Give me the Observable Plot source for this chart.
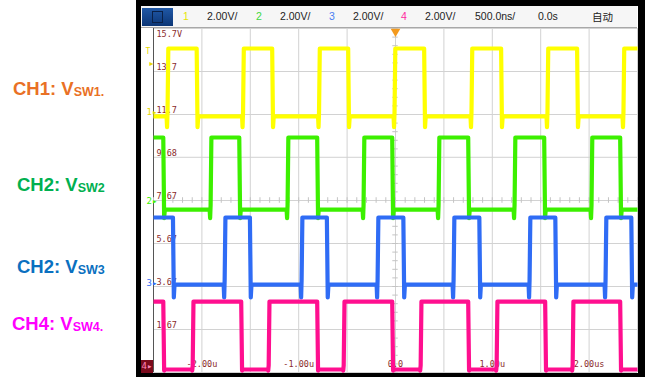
<!DOCTYPE html>
<html><head><meta charset="utf-8">
<script src="https://cdn.jsdelivr.net/npm/d3@7"></script>
<script src="https://cdn.jsdelivr.net/npm/@observablehq/plot@0.6"></script>
<style>
html,body{margin:0;padding:0;background:#fff}
#page{position:relative;width:645px;height:377px;overflow:hidden;font-family:"Liberation Sans",Arial,sans-serif}
#bezel{position:absolute;left:136px;top:0;width:509px;height:377px;background:#000}
#screen{position:absolute;left:141px;top:6px;width:497px;height:367px;background:#fff}
#header{position:absolute;left:141px;top:6px;width:496px;height:21px;background:#f6f6f6;border-bottom:1px solid #a8a8a8}
#header span{position:absolute;top:0;line-height:21px;font-size:10.5px;color:#222;white-space:nowrap}
#menu{position:absolute;left:1px;top:2px;width:31px;height:18px;background:linear-gradient(#2058a6,#0c3676)}
#menu div{position:absolute;left:10px;top:3px;width:9px;height:10px;border:1px solid #0a2148}
#chart{position:absolute;left:0;top:0}
.lab{position:absolute;white-space:nowrap;font-weight:bold;font-size:18.5px;line-height:20px}
.lab span{font-size:12.5px;position:relative;top:1px}
#ch4box{position:absolute;left:141px;top:360px;width:12px;height:13px;background:#7a0a1c;color:#ff86b8;font-size:9px;line-height:13px;font-family:"DejaVu Sans Mono",monospace;text-align:center}
</style></head>
<body><div id="page">
<div id="bezel"></div><div id="screen"></div>
<div id="header"><div id="menu"><div></div></div></div>
<div id="ch4box">4▸</div>
</div>
<script>
// ---- scope settings / labels ----
const headerChannels = ["1", "2", "3", "4"];
const headerChannelColors = ["#e6e600", "#3fd83f", "#4a7ff2", "#ff2aa0"];
const headerScales = ["2.00V/", "2.00V/", "2.00V/", "2.00V/"];
const headerTimebase = "500.0ns/";
const headerDelay = "0.0s";
const headerMode = "自动";

const voltTicks = [15.67, 13.67, 11.67, 9.68, 7.67, 5.67, 3.67, 1.67, -0.33];
const voltTickLabels = ["15.7V", "13.7", "11.7", "9.68", "7.67", "5.67", "3.67", "1.67", ""];
const timeTicks = [-2500, -2000, -1500, -1000, -500, 0, 500, 1000, 1500, 2000, 2500];
const timeLabelValues = [-2000, -1000, 0, 1000, 2000];
const timeLabels = ["-2.00u", "-1.00u", "0.0", "1.00u", "2.00us"];

const sideNames = ["CH1: V", "CH2: V", "CH2: V", "CH4: V"];
const sideSubs = ["SW1.", "SW2", "SW3", "SW4."];
const sideColors = ["#e97125", "#00b050", "#0a70c0", "#ff00ff"];

// ---- waveforms: edge times (ns) and levels (screen volts) ----
const channels = ["CH1", "CH2", "CH3", "CH4"];
const traceColors = ["#ffff00", "#3cf000", "#2f6cf5", "#ff0f8f"];
const ch1Rise = [-2355, -1575, -790, -10, 785, 1570, 2355];
const ch1Fall = [-2050, -1270, -485, 300, 1095, 1880];
const ch2Rise = [-1910, -1115, -330, 445, 1230, 2025];
const ch2Fall = [-2395, -1610, -805, -30, 755, 1540, 2325];
const ch3Rise = [-1765, -970, -185, 600, 1385, 2170];
const ch3Fall = [-2295, -1500, -705, 85, 870, 1655, 2440];
const ch4Rise = [-2095, -1310, -535, 260, 1045, 1830];
const ch4Fall = [-2395, -1590, -805, -30, 755, 1550, 2325];
const highLevels = [14.74, 10.60, 6.88, 2.97];
const lowLevels = [11.58, 7.25, 3.76, -0.19];
const edgeSpikes = [0.5, 0.4, 0.6, 0.05];
const markerLevels = [11.72, 7.6, 3.78];
const triggerLevel = 14.09;

// ---- header ----
const header = document.getElementById("header");
function addSpan(text, left, color, font) {
  const s = document.createElement("span");
  s.textContent = text; s.style.left = (left - 141) + "px";
  if (color) s.style.color = color;
  if (font) s.style.fontFamily = font;
  header.appendChild(s);
}
const chanX = [183, 256, 329, 401];
headerChannels.forEach((c, i) => {
  addSpan(c, chanX[i], headerChannelColors[i]);
  addSpan(headerScales[i], chanX[i] + 24, null);
});
addSpan(headerTimebase, 475);
addSpan(headerDelay, 538);
addSpan(headerMode, 592, null, '"Noto Sans CJK SC",sans-serif');

// ---- side labels ----
const page = document.getElementById("page");
const sideBaselines = [95, 191, 273, 330];
const sideLefts = [13, 17, 17, 12];
sideNames.forEach((n, i) => {
  const d = document.createElement("div");
  d.className = "lab";
  d.style.color = sideColors[i];
  d.style.left = sideLefts[i] + "px";
  d.style.top = (sideBaselines[i] - 16.4) + "px";
  d.innerHTML = n + "<span>" + sideSubs[i] + "</span>";
  page.appendChild(d);
});

// ---- build traces from edges ----
const rises = [ch1Rise, ch2Rise, ch3Rise, ch4Rise];
const falls = [ch1Fall, ch2Fall, ch3Fall, ch4Fall];
const traceData = [];
channels.forEach((ch, c) => {
  const hi = highLevels[c], lo = lowLevels[c], sp = edgeSpikes[c];
  const edges = [...rises[c].map(t => ({t, up: true})), ...falls[c].map(t => ({t, up: false}))]
    .sort((a, b) => a.t - b.t);
  let level = edges[0].up ? lo : hi;
  traceData.push({ch, t: -2500, v: level});
  for (const e of edges) {
    if (e.up) {
      traceData.push({ch, t: e.t - 10, v: lo}, {ch, t: e.t - 5, v: lo - sp}, {ch, t: e.t, v: lo + 0.2},
                     {ch, t: e.t + 8, v: hi});
      level = hi;
    } else {
      traceData.push({ch, t: e.t - 4, v: hi}, {ch, t: e.t + 5, v: lo - sp}, {ch, t: e.t + 12, v: lo});
      level = lo;
    }
  }
  traceData.push({ch, t: 2500, v: level});
});

const centerV = 7.67;
const minorX = d3.range(-2500, 2501, 100);
const minorY = d3.range(-0.33, 15.7, 0.4);

const chart = Plot.plot({
  width: 645, height: 377,
  marginLeft: 153, marginRight: 8, marginTop: 28, marginBottom: 5,
  x: {domain: [-2500, 2500], axis: null},
  y: {domain: [-0.33, 15.67], axis: null},
  color: {domain: channels, range: traceColors},
  style: {background: "transparent"},
  marks: [
    Plot.ruleX(timeTicks, {stroke: "#d2d2d2", strokeWidth: 1}),
    Plot.ruleY(voltTicks, {stroke: "#d2d2d2", strokeWidth: 1}),
    Plot.ruleX([-2500], {stroke: "#555", strokeWidth: 1}),
    Plot.ruleX(minorX, {y1: centerV - 0.13, y2: centerV + 0.13, stroke: "#c4c4c4"}),
    Plot.ruleY(minorY, {x1: -28, x2: 28, stroke: "#c4c4c4"}),
    Plot.text(voltTicks, {filter: (d, i) => i === 0, y: d => d, text: (d, i) => voltTickLabels[0],
      frameAnchor: "left", dx: 3, dy: 6, textAnchor: "start", fill: "#8a2a2a",
      fontFamily: "DejaVu Sans Mono, monospace", fontSize: 8.5}),
    Plot.text(voltTicks.slice(1), {y: d => d, text: (d, i) => voltTickLabels[i + 1],
      frameAnchor: "left", dx: 3, dy: -4, textAnchor: "start", fill: "#8a2a2a",
      fontFamily: "DejaVu Sans Mono, monospace", fontSize: 8.5}),
    Plot.text(timeLabelValues, {x: d => d, text: (d, i) => timeLabels[i], frameAnchor: "bottom",
      dy: -6, fill: "#8a2a2a", fontFamily: "DejaVu Sans Mono, monospace", fontSize: 8.5}),
    Plot.line(traceData, {x: "t", y: "v", z: "ch", stroke: "ch", strokeWidth: 4.2,
      strokeLinejoin: "round", strokeLinecap: "butt"}),
    Plot.dot([0], {x: d => d, y: () => 15.67, symbol: "triangle", rotate: 180, r: 3.6,
      fill: "#f39a1e", stroke: "none", dy: 3}),
    Plot.text(markerLevels, {y: d => d, text: (d, i) => headerChannels[i] + "▸",
      fill: (d, i) => i === 0 ? "#e8d800" : traceColors[i],
      frameAnchor: "left", dx: -7, dy: -1, fontSize: 9, fontFamily: "DejaVu Sans Mono, monospace"}),
    Plot.text([triggerLevel], {y: d => d, text: () => "T", frameAnchor: "left", dx: -8, dy: -11,
      fill: "#e8d800", fontSize: 8, fontFamily: "DejaVu Sans Mono, monospace"}),
    Plot.text([triggerLevel], {y: d => d, text: () => "▸", frameAnchor: "left", dx: -4, dy: 1,
      fill: "#e8d800", fontSize: 8, fontFamily: "DejaVu Sans"})
  ]
});
chart.id = "chart";
page.appendChild(chart);
</script>
</body></html>
